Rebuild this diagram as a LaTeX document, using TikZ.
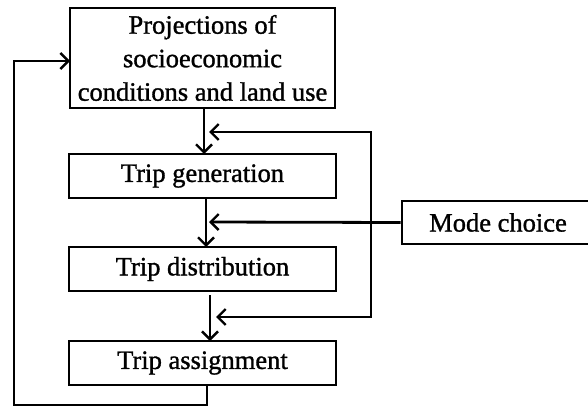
\documentclass[tikz,border=0pt]{standalone}
\usepackage{fontspec}
\setmainfont{Liberation Serif}[FakeBold=1.2]
\usetikzlibrary{arrows.meta}
\begin{document}
\begin{tikzpicture}[x=1pt,y=-1pt,
  box/.style={draw,line width=2.8pt,inner sep=0pt,align=center,
    font=\fontsize{26.5}{33.5}\selectfont},
  conn/.style={line width=2.8pt,line join=miter,-{Straight Barb[length=8pt,width=16pt,line width=2.4pt]}}]
\useasboundingbox[fill=white] (0,0) rectangle (588,409);
\clip (0,0) rectangle (588,409);
\node[box,minimum width=265pt,minimum height=100pt] (b1) at (202.5,58)
  {Projections of\\socioeconomic\\conditions and land use};
\node[box,minimum width=267pt,minimum height=44pt] (gen) at (202.5,176) {Trip generation};
\node[box,minimum width=267pt,minimum height=44pt] (dist) at (202.5,269) {Trip distribution};
\node[box,minimum width=267pt,minimum height=44pt] (asg) at (202.5,363) {Trip assignment};
\node[box,minimum width=192pt,minimum height=43pt] (mode) at (498,222.5) {Mode choice};
\coordinate (rtop) at (371,132);
\coordinate (rbot) at (371,317);
\coordinate (t1) at (209,132);
\coordinate (t2) at (209,222);
\coordinate (t3) at (216,317);
\coordinate (fb1) at (207,405);
\coordinate (fb2) at (14,405);
\coordinate (fb3) at (14,61);
\coordinate (fb4) at (70,61);
% main chain
\draw[conn] (204,108) -- (204,154);
\draw[conn] (206,198) -- (206,247);
\draw[conn] (210,295) -- (210,341);
% right loop
\draw[conn] (rbot) -- (rtop) -- (t1);
\draw[conn] (rtop) -- (rbot) -- (t3);
% mode choice
\draw[conn] (mode.west) -- (t2);
% feedback
\draw[conn] (asg.south -| fb1) -- (fb1) -- (fb2) -- (fb3) -- (fb4);
\end{tikzpicture}
\end{document}
